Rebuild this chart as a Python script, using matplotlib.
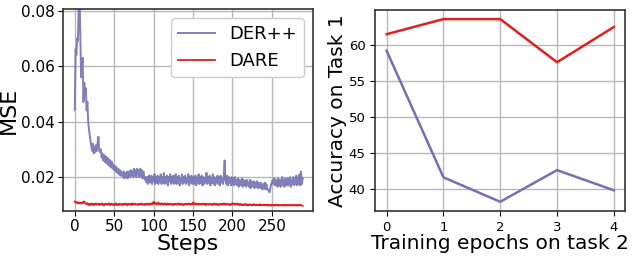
import matplotlib
matplotlib.use("Agg")
import matplotlib.pyplot as plt

# MSE por paso (panel izquierdo)
der_mse = [
    0.0442, 0.0660, 0.0640, 0.0700, 0.0690, 0.0820, 0.0860, 0.0700, 0.0560, 0.0600,
    0.0630, 0.0470, 0.0540, 0.0500, 0.0520, 0.0440, 0.0470, 0.0400, 0.0370, 0.0350,
    0.0330, 0.0310, 0.0295, 0.0320, 0.0285, 0.0310, 0.0290, 0.0315, 0.0295, 0.0325,
    0.0345, 0.0295, 0.0290, 0.0300, 0.0270, 0.0285, 0.0260, 0.0280, 0.0255, 0.0275,
    0.0250, 0.0270, 0.0245, 0.0265, 0.0240, 0.0260, 0.0235, 0.0255, 0.0230, 0.0245,
    0.0225, 0.0240, 0.0220, 0.0235, 0.0215, 0.0230, 0.0210, 0.0225, 0.0205, 0.0220,
    0.0210, 0.0200, 0.0220, 0.0195, 0.0215, 0.0200, 0.0220, 0.0195, 0.0215, 0.0220,
    0.0200, 0.0225, 0.0205, 0.0220, 0.0200, 0.0230, 0.0205, 0.0225, 0.0200, 0.0230,
    0.0210, 0.0225, 0.0200, 0.0230, 0.0205, 0.0225, 0.0195, 0.0220, 0.0200, 0.0190,
    0.0200, 0.0180, 0.0200, 0.0175, 0.0205, 0.0185, 0.0180, 0.0205, 0.0175, 0.0200,
    0.0185, 0.0210, 0.0175, 0.0200, 0.0180, 0.0205, 0.0175, 0.0200, 0.0185, 0.0210,
    0.0175, 0.0200, 0.0180, 0.0215, 0.0175, 0.0200, 0.0180, 0.0205, 0.0170, 0.0200,
    0.0185, 0.0210, 0.0175, 0.0200, 0.0180, 0.0205, 0.0175, 0.0190, 0.0210, 0.0175,
    0.0200, 0.0180, 0.0205, 0.0170, 0.0195, 0.0180, 0.0210, 0.0175, 0.0200, 0.0180,
    0.0205, 0.0175, 0.0195, 0.0180, 0.0210, 0.0170, 0.0200, 0.0180, 0.0205, 0.0175,
    0.0200, 0.0180, 0.0175, 0.0205, 0.0170, 0.0195, 0.0180, 0.0210, 0.0175, 0.0200,
    0.0180, 0.0205, 0.0170, 0.0200, 0.0175, 0.0195, 0.0180, 0.0215, 0.0175, 0.0200,
    0.0180, 0.0205, 0.0170, 0.0195, 0.0180, 0.0210, 0.0175, 0.0200, 0.0170, 0.0195,
    0.0180, 0.0205, 0.0175, 0.0200, 0.0170, 0.0205, 0.0180, 0.0195, 0.0175, 0.0205,
    0.0260, 0.0190, 0.0175, 0.0205, 0.0170, 0.0200, 0.0180, 0.0195, 0.0170, 0.0200,
    0.0175, 0.0195, 0.0170, 0.0200, 0.0175, 0.0190, 0.0170, 0.0195, 0.0165, 0.0190,
    0.0175, 0.0170, 0.0195, 0.0165, 0.0190, 0.0170, 0.0185, 0.0165, 0.0190, 0.0170,
    0.0180, 0.0165, 0.0190, 0.0160, 0.0185, 0.0170, 0.0165, 0.0185, 0.0160, 0.0180,
    0.0165, 0.0185, 0.0160, 0.0180, 0.0165, 0.0160, 0.0180, 0.0165, 0.0155, 0.0175,
    0.0160, 0.0180, 0.0155, 0.0175, 0.0160, 0.0155, 0.0150, 0.0145, 0.0160, 0.0175,
    0.0180, 0.0190, 0.0175, 0.0195, 0.0170, 0.0190, 0.0175, 0.0165, 0.0195, 0.0170,
    0.0190, 0.0165, 0.0185, 0.0200, 0.0170, 0.0190, 0.0165, 0.0195, 0.0175, 0.0170,
    0.0195, 0.0170, 0.0190, 0.0200, 0.0165, 0.0190, 0.0175, 0.0200, 0.0170, 0.0195,
    0.0175, 0.0205, 0.0170, 0.0195, 0.0175, 0.0210, 0.0170, 0.0220, 0.0175, 0.0195,
]

dare_mse = [
    0.0112, 0.0108, 0.0110, 0.0106, 0.0109, 0.0105, 0.0108, 0.0107, 0.0104, 0.0108,
    0.0110, 0.0106, 0.0112, 0.0108, 0.0104, 0.0102, 0.0106, 0.0100, 0.0104, 0.0098,
    0.0102, 0.0105, 0.0100, 0.0103, 0.0099, 0.0104, 0.0101, 0.0105, 0.0100, 0.0102,
    0.0104, 0.0099, 0.0103, 0.0101, 0.0105, 0.0100, 0.0102, 0.0098, 0.0103, 0.0101,
    0.0104, 0.0100, 0.0102, 0.0105, 0.0099, 0.0103, 0.0100, 0.0104, 0.0101, 0.0099,
    0.0103, 0.0100, 0.0105, 0.0101, 0.0098, 0.0103, 0.0100, 0.0104, 0.0101, 0.0102,
    0.0099, 0.0104, 0.0100, 0.0103, 0.0101, 0.0105, 0.0099, 0.0102, 0.0100, 0.0104,
    0.0101, 0.0103, 0.0099, 0.0105, 0.0100, 0.0102, 0.0104, 0.0100, 0.0103, 0.0101,
    0.0099, 0.0104, 0.0101, 0.0103, 0.0100, 0.0105, 0.0101, 0.0102, 0.0099, 0.0104,
    0.0101, 0.0103, 0.0100, 0.0105, 0.0102, 0.0100, 0.0104, 0.0101, 0.0106, 0.0103,
    0.0111, 0.0104, 0.0107, 0.0102, 0.0105, 0.0103, 0.0108, 0.0102, 0.0104, 0.0101,
    0.0106, 0.0102, 0.0104, 0.0100, 0.0105, 0.0102, 0.0103, 0.0100, 0.0105, 0.0101,
    0.0103, 0.0100, 0.0104, 0.0101, 0.0102, 0.0099, 0.0104, 0.0101, 0.0103, 0.0100,
    0.0102, 0.0105, 0.0100, 0.0103, 0.0101, 0.0104, 0.0100, 0.0102, 0.0099, 0.0103,
    0.0101, 0.0104, 0.0100, 0.0102, 0.0105, 0.0101, 0.0103, 0.0100, 0.0104, 0.0102,
    0.0108, 0.0103, 0.0106, 0.0101, 0.0104, 0.0102, 0.0105, 0.0100, 0.0103, 0.0101,
    0.0104, 0.0100, 0.0102, 0.0105, 0.0101, 0.0103, 0.0099, 0.0104, 0.0101, 0.0102,
    0.0100, 0.0104, 0.0101, 0.0103, 0.0099, 0.0102, 0.0105, 0.0100, 0.0103, 0.0101,
    0.0104, 0.0100, 0.0102, 0.0099, 0.0103, 0.0101, 0.0104, 0.0100, 0.0102, 0.0105,
    0.0101, 0.0103, 0.0100, 0.0104, 0.0101, 0.0102, 0.0099, 0.0103, 0.0100, 0.0102,
    0.0106, 0.0101, 0.0104, 0.0100, 0.0103, 0.0101, 0.0105, 0.0100, 0.0102, 0.0099,
    0.0103, 0.0100, 0.0102, 0.0098, 0.0101, 0.0099, 0.0103, 0.0100, 0.0102, 0.0098,
    0.0101, 0.0099, 0.0102, 0.0100, 0.0098, 0.0101, 0.0099, 0.0102, 0.0100, 0.0098,
    0.0101, 0.0099, 0.0100, 0.0098, 0.0102, 0.0099, 0.0101, 0.0098, 0.0100, 0.0099,
    0.0101, 0.0098, 0.0100, 0.0099, 0.0101, 0.0097, 0.0099, 0.0098, 0.0100, 0.0097,
    0.0099, 0.0098, 0.0100, 0.0097, 0.0099, 0.0098, 0.0101, 0.0098, 0.0100, 0.0097,
    0.0099, 0.0098, 0.0100, 0.0099, 0.0097, 0.0100, 0.0098, 0.0099, 0.0097, 0.0100,
    0.0098, 0.0099, 0.0097, 0.0100, 0.0098, 0.0099, 0.0097, 0.0099, 0.0098, 0.0100,
    0.0098, 0.0099, 0.0097, 0.0100, 0.0098, 0.0099, 0.0101, 0.0098, 0.0097, 0.0096,
]

# exactitud en la tarea 1 (panel derecho)
epocas = [0, 1, 2, 3, 4]
der_acc = [59.2, 41.6, 38.2, 42.6, 39.8]
dare_acc = [61.5, 63.6, 63.6, 57.6, 62.5]

pasos = list(range(len(der_mse)))

color_der = "#7570b3"
color_dare = "#e0201e"

fig = plt.figure(figsize=(6.36, 2.62), dpi=100)
ax1 = fig.add_axes([0.099, 0.195, 0.393, 0.771])
ax2 = fig.add_axes([0.590, 0.195, 0.393, 0.767])

for ax in (ax1, ax2):
    ax.grid(color="#b8b8b8", linewidth=1.0)
    ax.set_axisbelow(True)
    for s in ax.spines.values():
        s.set_color("#333333")
        s.set_linewidth(1.2)

ax1.plot(pasos, der_mse, color=color_der, linewidth=1.4, alpha=0.9, label="DER++")
ax1.plot(pasos, dare_mse, color=color_dare, linewidth=1.3, label="DARE")
ax1.set_xlim(-15, 302)
ax1.set_ylim(0.0078, 0.0806)
ax1.set_xticks([0, 50, 100, 150, 200, 250])
ax1.set_yticks([0.02, 0.04, 0.06, 0.08])
ax1.tick_params(labelsize=11, pad=2.5)
ax1.set_xlabel("Steps", fontsize=16, labelpad=0)
ax1.set_ylabel("MSE", fontsize=16, labelpad=1)
ax1.legend(loc="upper right", fontsize=13, framealpha=1.0, edgecolor="#cccccc")

ax2.plot(epocas, dare_acc, color=color_dare, linewidth=1.8)
ax2.plot(epocas, der_acc, color=color_der, linewidth=1.8)
ax2.set_xticks(epocas)
ax2.set_yticks([40, 45, 50, 55, 60])
ax2.tick_params(labelsize=9.5)
ax2.set_xlabel("Training epochs on task 2", fontsize=14.5, labelpad=0)
ax2.set_ylabel("Accuracy on Task 1", fontsize=14.5, labelpad=1)

fig.savefig("out.png", dpi=100)
